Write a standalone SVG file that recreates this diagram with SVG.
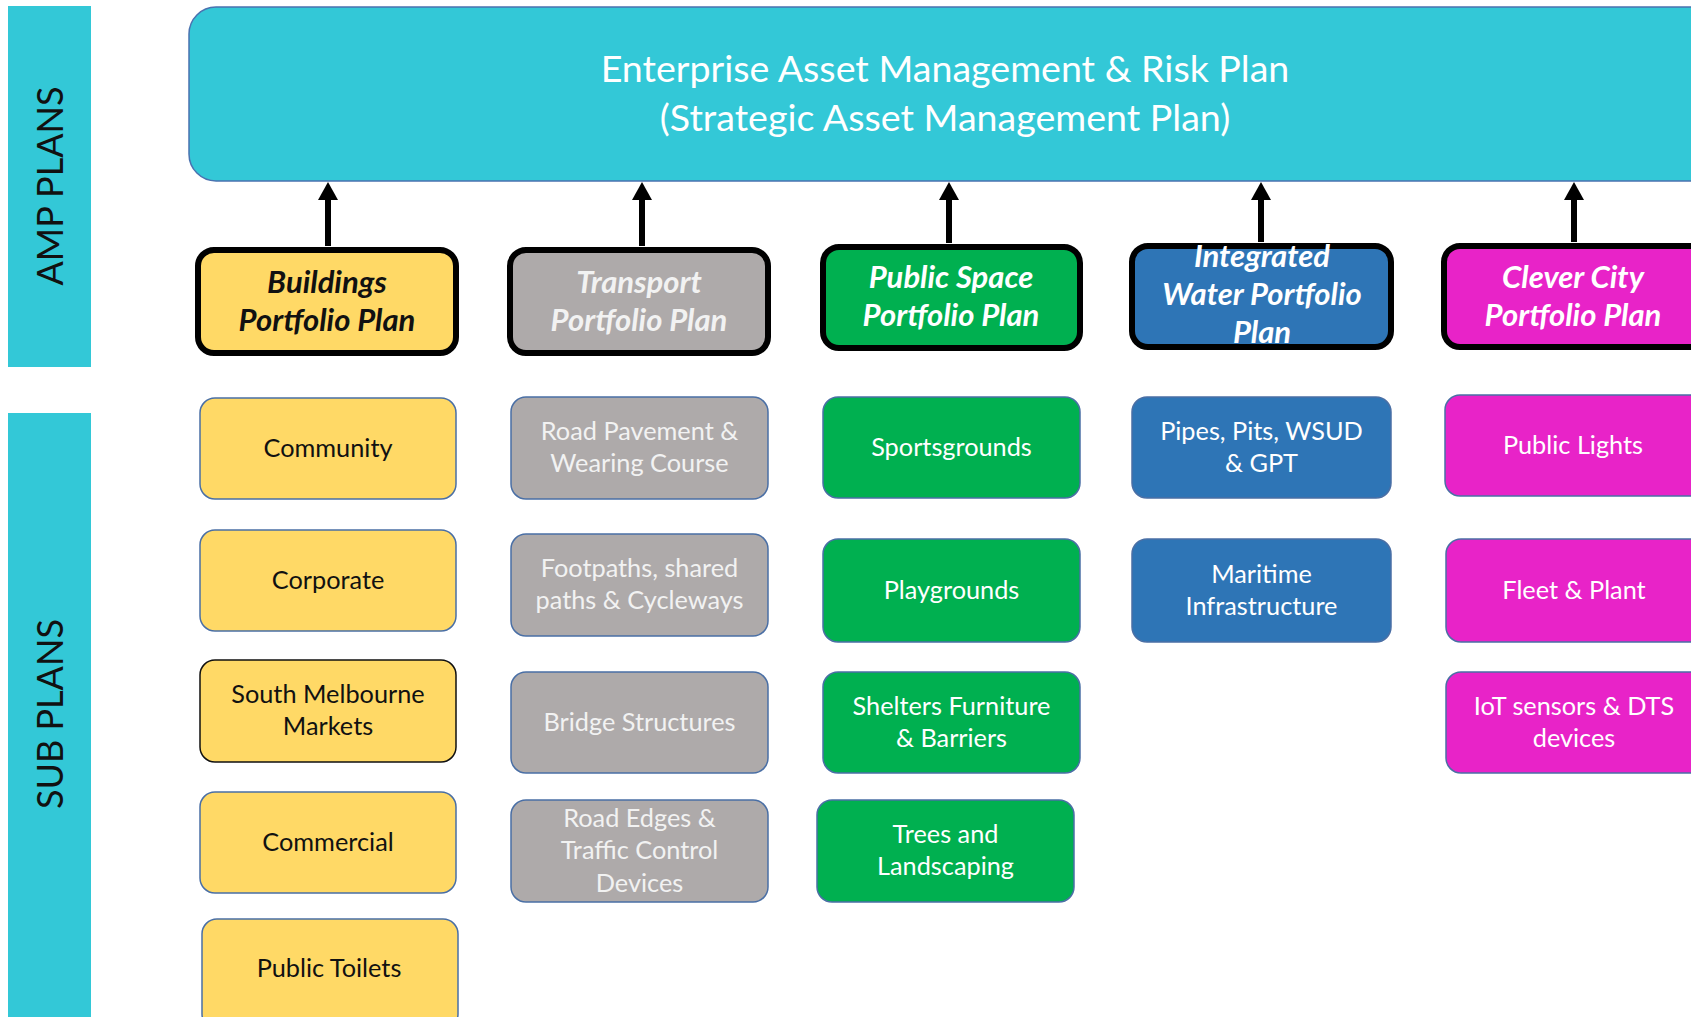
<svg xmlns="http://www.w3.org/2000/svg" width="1691" height="1017" viewBox="0 0 1691 1017">
<defs>
<style>
.band{fill:#33C8D7;}
.band-t{font-family:Lato,"Open Sans","DejaVu Sans",sans-serif;font-size:36px;fill:#111;text-anchor:middle;}
.top{fill:#33C8D7;stroke:#4A72B0;stroke-width:1.5;}
.top-t{font-family:Lato,"Open Sans","DejaVu Sans",sans-serif;font-size:37.6px;fill:#FFFFFF;text-anchor:middle;}
.pf{stroke:#000;stroke-width:6;}
.pf-t{font-family:Lato,"Open Sans","DejaVu Sans",sans-serif;font-size:31px;font-weight:bold;font-style:italic;text-anchor:middle;}
.sb{stroke:#4A6FA5;stroke-width:1.5;}
.sb-t{font-family:Lato,"Open Sans","DejaVu Sans",sans-serif;font-size:25.3px;text-anchor:middle;}
.y{fill:#FFD966;}
.g{fill:#AEAAAA;}
.gr{fill:#00B050;}
.b{fill:#2E75B6;}
.m{fill:#E823C8;}
.dk{fill:#111;}
.wt{fill:#FFFFFF;}
.lg{fill:#F2F2F2;}
.conn{stroke:#000;stroke-width:6;fill:none;}
</style>
<marker id="ah" markerWidth="18" markerHeight="20" refX="0" refY="10" orient="auto" markerUnits="userSpaceOnUse" viewBox="0 0 18 20">
<path d="M0,0 L18,10 L0,20 Z" fill="#000"/>
</marker>
</defs>
<rect width="1691" height="1017" fill="#FFFFFF"/>

<g id="amp-plans">
<rect class="band" x="8" y="6" width="83" height="361"/>
<text class="band-t" transform="translate(63,186) rotate(-90)">AMP PLANS</text>
</g>
<g id="sub-plans">
<rect class="band" x="8" y="413" width="83" height="610"/>
<text class="band-t" transform="translate(63,714) rotate(-90)">SUB PLANS</text>
</g>

<g id="enterprise">
<rect class="top" x="189" y="7" width="1540" height="174" rx="27"/>
<text class="top-t" x="945" y="82">Enterprise Asset Management &amp; Risk Plan</text>
<text class="top-t" x="945" y="131">(Strategic Asset Management Plan)</text>
</g>

<g id="connectors">
<line class="conn" x1="328" y1="246" x2="328" y2="200" marker-end="url(#ah)"/>
<line class="conn" x1="642" y1="246" x2="642" y2="200" marker-end="url(#ah)"/>
<line class="conn" x1="949" y1="243" x2="949" y2="200" marker-end="url(#ah)"/>
<line class="conn" x1="1261" y1="242" x2="1261" y2="200" marker-end="url(#ah)"/>
<line class="conn" x1="1574" y1="242" x2="1574" y2="200" marker-end="url(#ah)"/>
</g>

<g id="buildings-plan">
<rect class="pf y" x="198" y="250" width="258" height="103" rx="16"/>
<text class="pf-t dk" x="327" y="293">Buildings</text>
<text class="pf-t dk" x="327" y="331">Portfolio Plan</text>
</g>
<g id="transport-plan">
<rect class="pf g" x="510" y="250" width="258" height="103" rx="16"/>
<text class="pf-t lg" x="639" y="293">Transport</text>
<text class="pf-t lg" x="639" y="331">Portfolio Plan</text>
</g>
<g id="public-space-plan">
<rect class="pf gr" x="823" y="247" width="257" height="101" rx="16"/>
<text class="pf-t wt" x="951" y="288">Public Space</text>
<text class="pf-t wt" x="951" y="326">Portfolio Plan</text>
</g>
<g id="water-plan">
<rect class="pf b" x="1132" y="246" width="259" height="101" rx="16"/>
<text class="pf-t wt" x="1262" y="267">Integrated</text>
<text class="pf-t wt" x="1262" y="305">Water Portfolio</text>
<text class="pf-t wt" x="1262" y="343">Plan</text>
</g>
<g id="clever-city-plan">
<rect class="pf m" x="1444" y="246" width="290" height="101" rx="16"/>
<text class="pf-t wt" x="1573" y="288">Clever City</text>
<text class="pf-t wt" x="1573" y="326">Portfolio Plan</text>
</g>

<g id="community">
<rect class="sb y" x="200" y="398" width="256" height="101" rx="15"/>
<text class="sb-t dk" x="328" y="457">Community</text>
</g>
<g id="corporate">
<rect class="sb y" x="200" y="530" width="256" height="101" rx="15"/>
<text class="sb-t dk" x="328" y="589">Corporate</text>
</g>
<g id="south-melbourne-markets">
<rect class="y" x="200" y="660" width="256" height="102" rx="15" stroke="#111" stroke-width="1.5"/>
<text class="sb-t dk" x="328" y="703">South Melbourne</text>
<text class="sb-t dk" x="328" y="735">Markets</text>
</g>
<g id="commercial">
<rect class="sb y" x="200" y="792" width="256" height="101" rx="15"/>
<text class="sb-t dk" x="328" y="851">Commercial</text>
</g>
<g id="public-toilets">
<rect class="sb y" x="202" y="919" width="256" height="110" rx="15"/>
<text class="sb-t dk" x="329" y="977">Public Toilets</text>
</g>

<g id="road-pavement">
<rect class="sb g" x="511" y="397" width="257" height="102" rx="15"/>
<text class="sb-t lg" x="639.5" y="440">Road Pavement &amp;</text>
<text class="sb-t lg" x="639.5" y="472">Wearing Course</text>
</g>
<g id="footpaths">
<rect class="sb g" x="511" y="534" width="257" height="102" rx="15"/>
<text class="sb-t lg" x="639.5" y="577">Footpaths, shared</text>
<text class="sb-t lg" x="639.5" y="609">paths &amp; Cycleways</text>
</g>
<g id="bridge-structures">
<rect class="sb g" x="511" y="672" width="257" height="101" rx="15"/>
<text class="sb-t lg" x="639.5" y="731">Bridge Structures</text>
</g>
<g id="road-edges">
<rect class="sb g" x="511" y="800" width="257" height="102" rx="15"/>
<text class="sb-t lg" x="639.5" y="827">Road Edges &amp;</text>
<text class="sb-t lg" x="639.5" y="859">Traffic Control</text>
<text class="sb-t lg" x="639.5" y="892">Devices</text>
</g>

<g id="sportsgrounds">
<rect class="sb gr" x="823" y="397" width="257" height="101" rx="15"/>
<text class="sb-t wt" x="951.5" y="456">Sportsgrounds</text>
</g>
<g id="playgrounds">
<rect class="sb gr" x="823" y="539" width="257" height="103" rx="15"/>
<text class="sb-t wt" x="951.5" y="599">Playgrounds</text>
</g>
<g id="shelters">
<rect class="sb gr" x="823" y="672" width="257" height="101" rx="15"/>
<text class="sb-t wt" x="951.5" y="715">Shelters Furniture</text>
<text class="sb-t wt" x="951.5" y="747">&amp; Barriers</text>
</g>
<g id="trees">
<rect class="sb gr" x="817" y="800" width="257" height="102" rx="15"/>
<text class="sb-t wt" x="945.5" y="843">Trees and</text>
<text class="sb-t wt" x="945.5" y="875">Landscaping</text>
</g>

<g id="pipes">
<rect class="sb b" x="1132" y="397" width="259" height="101" rx="15"/>
<text class="sb-t wt" x="1261.5" y="440">Pipes, Pits, WSUD</text>
<text class="sb-t wt" x="1261.5" y="472">&amp; GPT</text>
</g>
<g id="maritime">
<rect class="sb b" x="1132" y="539" width="259" height="103" rx="15"/>
<text class="sb-t wt" x="1261.5" y="583">Maritime</text>
<text class="sb-t wt" x="1261.5" y="615">Infrastructure</text>
</g>

<g id="public-lights">
<rect class="sb m" x="1445" y="395" width="290" height="101" rx="15"/>
<text class="sb-t wt" x="1573" y="454">Public Lights</text>
</g>
<g id="fleet-plant">
<rect class="sb m" x="1446" y="539" width="290" height="103" rx="15"/>
<text class="sb-t wt" x="1574" y="599">Fleet &amp; Plant</text>
</g>
<g id="iot-sensors">
<rect class="sb m" x="1446" y="672" width="290" height="101" rx="15"/>
<text class="sb-t wt" x="1574" y="715">IoT sensors &amp; DTS</text>
<text class="sb-t wt" x="1574" y="747">devices</text>
</g>
</svg>
